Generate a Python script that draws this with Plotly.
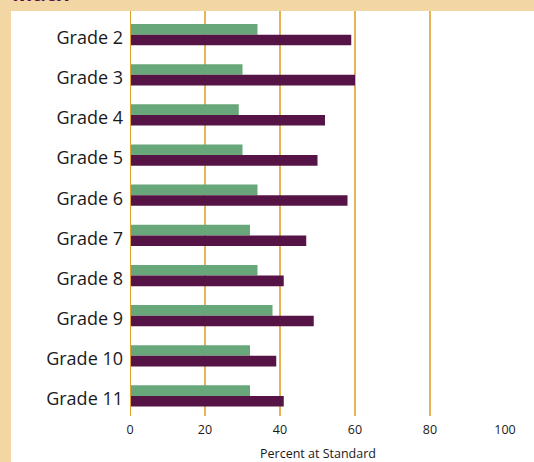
import plotly.graph_objects as go

grades = ["Grade 2", "Grade 3", "Grade 4", "Grade 5", "Grade 6",
          "Grade 7", "Grade 8", "Grade 9", "Grade 10", "Grade 11"]
group_a = [34, 30, 29, 30, 34, 32, 34, 38, 32, 32]   # green bars
group_b = [59, 60, 52, 50, 58, 47, 41, 49, 39, 41]   # purple bars

W, H = 534, 462
L, R, T, B = 130, 29, 11, 46

fig = go.Figure()
fig.add_trace(go.Bar(y=grades, x=group_a, orientation="h",
                     marker=dict(color="#68a77a", line=dict(width=0)),
                     offsetgroup="a", showlegend=False))
fig.add_trace(go.Bar(y=grades, x=group_b, orientation="h",
                     marker=dict(color="#561446", line=dict(width=0)),
                     offsetgroup="b", showlegend=False))

fig.update_layout(
    width=W, height=H,
    margin=dict(l=L, r=R, t=T, b=B),
    paper_bgcolor="white", plot_bgcolor="white",
    barmode="group", bargap=0.47, bargroupgap=0,
    font=dict(family="Open Sans, sans-serif", color="#1a1a1a"),
    xaxis=dict(range=[0, 100], tickvals=[0, 20, 40, 60, 80, 100],
               showgrid=True, gridcolor="#e6b456", gridwidth=2,
               zeroline=False, showline=False, ticks="",
               ticklabelstandoff=4, automargin=False,
               tickfont=dict(size=12.5, color="#1a1a1a")),
    yaxis=dict(categoryorder="array", categoryarray=grades,
               range=[9.5, -0.59], showgrid=False, zeroline=False,
               showline=False, ticks="", ticklabelstandoff=6, automargin=False,
               ticklabelshift=-3,
               tickfont=dict(size=18, color="#1a1a1a")),
)

# zero line drawn slightly darker than the grid
fig.add_shape(type="line", xref="x", yref="paper", x0=0, x1=0, y0=0, y1=1,
              line=dict(color="#dfa22c", width=2), layer="above")

# tan frame along the left and top edges
fig.add_shape(type="rect", xref="paper", yref="paper",
              x0=-L / (W - L - R), x1=-(L - 11) / (W - L - R), y0=-B / (H - T - B), y1=1 + T / (H - T - B),
              fillcolor="#f2d7a5", line=dict(width=0), layer="above")
fig.add_shape(type="rect", xref="paper", yref="paper",
              x0=-L / (W - L - R), x1=1 + R / (W - L - R), y0=1, y1=1 + T / (H - T - B),
              fillcolor="#f2d7a5", line=dict(width=0), layer="above")

# x axis title
fig.add_annotation(text="Percent at Standard", xref="paper", yref="paper",
                   x=0.5, y=0, yshift=-37, xanchor="center", yanchor="middle",
                   showarrow=False, font=dict(size=12.5, color="#1a1a1a"))

# section heading, mostly hidden above the frame
fig.add_annotation(text="<b>Math</b>", xref="paper", yref="paper",
                   x=-(L - 10) / (W - L - R), y=1, xanchor="left", yanchor="bottom",
                   yshift=2, showarrow=False,
                   font=dict(size=22, color="#561446", family="Open Sans, sans-serif"))

fig.write_html("out.html")
